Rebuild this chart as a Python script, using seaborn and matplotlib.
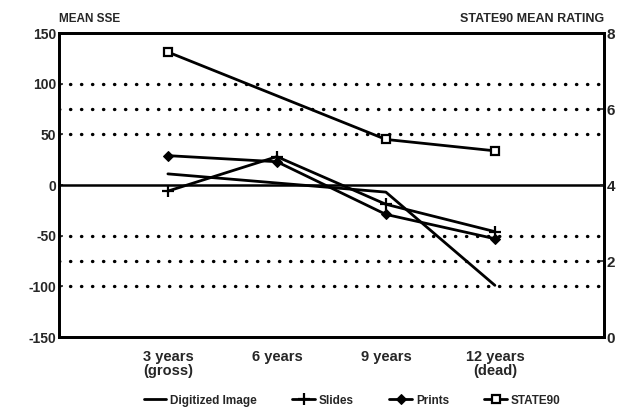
import numpy as np
import pandas as pd
import matplotlib
matplotlib.use("Agg")
import matplotlib.pyplot as plt
import seaborn as sns

# chart data
periods = ["3 years\n(gross)", "6 years", "9 years", "12 years\n(dead)"]
period_pos = [1, 2, 3, 4]
digitized = [11, 2, -7, -99]
slides = [-6, 28, -19, -46]
prints = [29, 23, -29, -53]
state90 = [7.5, np.nan, 5.2, 4.9]

left_ticks = [150, 100, 50, 0, -50, -100, -150]
right_ticks = [8, 6, 4, 2, 0]
dotted_levels = [100, 75, 50, -50, -75, -100]

sns.set_style("white")
plt.rcParams["font.family"] = ["Liberation Sans", "DejaVu Sans"]
plt.rcParams["font.weight"] = "bold"

fig = plt.figure(figsize=(6.2, 4.13), dpi=100)
ax = fig.add_axes([0.095, 0.184, 0.879, 0.736])
ax2 = ax.twinx()

sse = pd.DataFrame({"pos": period_pos, "Digitized Image": digitized,
                    "Slides": slides, "Prints": prints})
rating = pd.DataFrame({"pos": period_pos, "STATE90": state90}).dropna()

for lvl in dotted_levels:
    ax.axhline(lvl, color="black", lw=2.4, ls=(0, (0.1, 3.2)),
               dash_capstyle="round", zorder=1)
ax.axhline(0, color="black", lw=1.8, zorder=1)

line_kw = dict(color="black", lw=2, zorder=3)
sns.lineplot(data=sse, x="pos", y="Digitized Image", ax=ax,
             label="Digitized Image", **line_kw)
sns.lineplot(data=sse, x="pos", y="Slides", ax=ax, marker="+",
             markersize=9, markeredgewidth=1.6, markeredgecolor="black",
             label="Slides", **line_kw)
sns.lineplot(data=sse, x="pos", y="Prints", ax=ax, marker="D",
             markersize=5, markerfacecolor="black", markeredgecolor="black",
             label="Prints", **line_kw)
sns.lineplot(data=rating, x="pos", y="STATE90", ax=ax2, marker="s",
             markersize=6, markerfacecolor="white", markeredgecolor="black",
             markeredgewidth=1.6, label="STATE90", **line_kw)

ax.set_xlim(0, 5)
ax.set_ylim(-150, 150)
ax2.set_ylim(0, 8)
ax.set_xticks(period_pos)
ax.set_xticklabels(periods, fontsize=10.5, fontweight="bold", linespacing=1.05)
ax.set_yticks(left_ticks)
ax.set_yticklabels([str(t) for t in left_ticks], fontsize=10, fontweight="bold")
ax2.set_yticks(right_ticks)
ax2.set_yticklabels([str(t) for t in right_ticks], fontsize=11, fontweight="bold")
ax.set_xlabel("")
ax.set_ylabel("")
ax2.set_ylabel("")

ax.tick_params(axis="x", direction="in", length=4, width=1.2, pad=9)
ax.tick_params(axis="y", direction="in", length=3, width=1.2, pad=2)
ax2.tick_params(axis="y", direction="in", length=3, width=1.2, pad=2)

for a in (ax, ax2):
    for s in a.spines.values():
        s.set_visible(True)
        s.set_linewidth(2)
        s.set_color("black")

ax.text(0.0, 1.025, "MEAN SSE", transform=ax.transAxes, ha="left", va="bottom",
        fontsize=8.5, fontweight="bold")
ax.text(1.0, 1.025, "STATE90 MEAN RATING", transform=ax.transAxes, ha="right",
        va="bottom", fontsize=9, fontweight="bold")

h1, l1 = ax.get_legend_handles_labels()
h2, l2 = ax2.get_legend_handles_labels()
ax.get_legend().remove()
ax2.get_legend().remove()
fig.legend(h1 + h2, l1 + l2, loc="lower center", bbox_to_anchor=(0.568, -0.01),
           ncol=4, frameon=False, handlelength=1.9,
           handletextpad=0.35, columnspacing=3.0, prop={"weight": "bold", "size": 8.5})

fig.savefig("out.png", dpi=100, facecolor="white")
